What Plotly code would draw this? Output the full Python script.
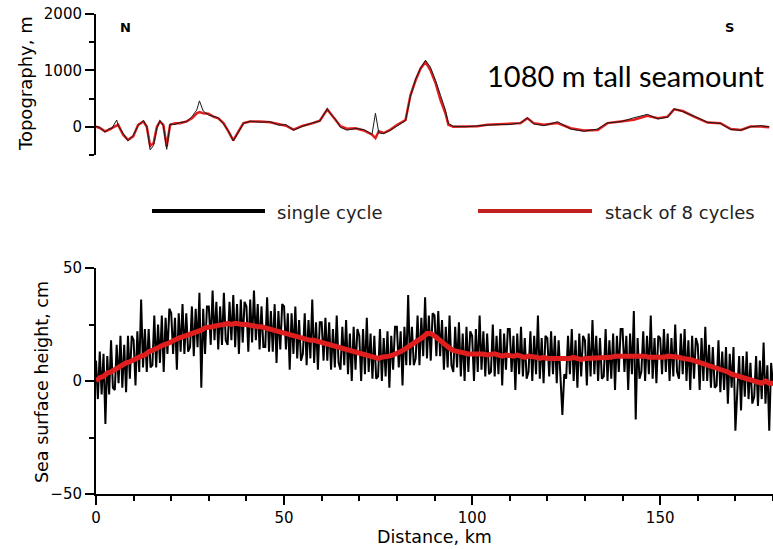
import plotly.graph_objects as go
from plotly.subplots import make_subplots

# ---------------- data ----------------
# Topography along track (km, m)
topo_km = [0, 1, 2.4, 3.3, 4.2, 5.5, 5.9, 7.2, 8.5, 9.9, 11.2, 12.6, 13.5, 14.4, 15.3, 16.2, 17, 17.9,
           18.8, 19.7, 21, 22.4, 24.1, 25.5, 26.8, 27.5, 28.5, 29.9, 31.2, 32.5, 33.9, 35.2, 36.5, 37.9,
           39.2, 41, 43.7, 46.3, 48.5, 50.5, 52.5, 55, 57.5, 59.5, 61.5, 62.3, 63.6, 65, 66.7, 69, 71.2,
           73.4, 74.3, 75.2, 76.5, 78.3, 80.1, 82.3, 83.6, 85, 86.3, 87.6, 88.9, 90.3, 91.6, 92.9, 93.7,
           95, 98, 101.4, 104, 107.6, 110, 112.9, 114.7, 116.4, 119.1, 122.7, 126.2, 129.7, 133.4, 136,
           139.5, 143, 146.6, 149.4, 152, 153.7, 156, 159, 162.6, 166, 168.8, 171.5, 174, 176.8, 179]
topo_stack = [0, -20, -80, -60, -25, 30, 35, -140, -230, -170, 35, 95, 0, -340, -290, 0, 95, 35,
              -350, 35, 65, 65, 95, 150, 240, 260, 240, 230, 180, 150, 65, -80, -240, -80,
              65, 95, 95, 80, 50, 20, -50, 20, 60, 110, 310, 240, 120, 10, -35, -25, -65,
              -140, -200, -80, -110, -50, 35, 120, 560, 830, 1035, 1150, 1005, 770, 475, 240, 35,
              0, 5, 10, 35, 45, 50, 65, 150, 65, 35, 65, -25, -65, -55, 65,
              95, 125, 195, 150, 180, 310, 280, 180, 75, 65, -40, -55, 5, 5, -10]
topo_single = [10, -10, -95, -40, -30, 120, 20, -120, -250, -150, 20, 110, 10, -410, -330, -20, 110, 20,
               -400, 50, 40, 80, 90, 180, 300, 460, 280, 210, 190, 160, 50, -70, -250, -90,
               60, 100, 80, 90, 30, 40, -60, 10, 70, 100, 320, 230, 140, -10, -60, -30, -50,
               -130, 240, -110, -120, -60, 20, 110, 540, 850, 1040, 1180, 1060, 820, 560, 300, 60,
               10, 0, 20, 30, 40, 40, 70, 160, 50, 20, 90, -40, -80, -40, 70,
               90, 160, 220, 140, 170, 320, 270, 190, 80, 60, -50, -60, 0, 20, 0]

# Sea surface height, single cycle (sampled every 0.5 km from 0 km), cm
ssh_single = [
    9, -8, 13, -6, 12, -19, 11, -6, 18, -3,
    -4, 16, -1, 20, -3, 16, -5, 20, 1, 20,
    18, -2, 22, 4, 36, 6, 23, 4, 23, 6,
    7, 29, 6, 25, 8, 29, 4, 28, 12, 32,
    30, 12, 28, 5, 30, 13, 34, 12, 30, 13,
    15, 33, 11, 32, 15, 39, -3, 32, 12, 33,
    33, 16, 40, 18, 35, 14, 33, 16, 39, 18,
    16, 35, 18, 38, 15, 34, 12, 36, 17, 35,
    33, 13, 36, 17, 40, 18, 34, 14, 33, 15,
    15, 37, 13, 31, 13, 34, 8, 31, 14, 34,
    33, 14, 30, 5, 30, 12, 33, 10, 27, 9,
    12, 30, 7, 27, 10, 36, 8, 26, 5, 26,
    26, 9, 28, 9, 26, 5, 23, 6, 29, 8,
    5, 24, 7, 27, 3, 21, 0, 24, 5, 23,
    20, 0, 23, 3, 28, 4, 21, 1, 20, 1,
    2, 23, 0, 19, 2, 22, -3, 20, 5, 24,
    24, 6, 22, -2, 24, 7, 38, 7, 24, 7,
    10, 29, 7, 28, 11, 37, 10, 29, 9, 30,
    29, 11, 31, 11, 27, 5, 24, 6, 29, 7,
    4, 24, 6, 26, 2, 21, 0, 24, 4, 22,
    20, 0, 23, 4, 29, 5, 22, 2, 21, 3,
    4, 25, 2, 20, 3, 23, -2, 21, 5, 23,
    23, 4, 20, -4, 21, 3, 24, 2, 19, 1,
    4, 22, 0, 20, 3, 29, 1, 19, -1, 20,
    19, 2, 22, 3, 20, -1, 18, 1, -15, 3,
    1, 20, 3, 23, 0, 18, -3, 21, 2, 20,
    18, -2, 21, 2, 27, 3, 20, 0, 19, 1,
    2, 23, 0, 18, 1, 21, -4, 20, 4, 23,
    23, 4, 20, -4, 21, 3, 31, -17, 19, 1,
    4, 22, 0, 20, 3, 29, 1, 19, -1, 20,
    19, 3, 23, 4, 21, 0, 19, 2, 25, 4,
    1, 21, 3, 23, 0, 18, -4, 20, 1, 19,
    16, -4, 19, 0, 24, 0, 16, -3, 15, -3,
    -2, 18, -5, 13, -4, 15, -10, 12, -3, 15,
    -22, -5, 11, -13, 11, -7, 13, -8, 8, -10,
    -7, 11, -11, 9, -8, 17, -10, 7, -22, 8,
    -2]

# Sea surface height, stack of 8 cycles (sampled every 1 km from 0 km), cm
ssh_stack = [
    0, 1.5, 2, 3.5, 4, 5, 6.5, 7, 8, 8.5, 9.5,
    10, 11, 11.5, 13, 13.5, 14.5, 15, 16, 16.5, 17.5,
    18, 19, 19.5, 20, 21, 21.5, 22, 22.5, 23.5, 23.5,
    24, 24.5, 24.5, 25, 25.5, 25, 25.5, 25, 25, 25,
    24.5, 24.5, 24, 24, 23.5, 23, 22.5, 22, 21.5, 21,
    20.5, 20, 20, 19.5, 19, 18.5, 18, 18, 17.5, 17,
    16.5, 16, 16, 15, 15, 14, 13.5, 13, 12.5, 12,
    11.5, 11, 10.5, 10.5, 10, 10.5, 10.5, 11, 11.5, 12,
    13, 14, 15, 16, 17, 18, 19.5, 21, 21, 20,
    18.5, 17, 15.5, 14.5, 13.5, 13, 12.5, 12.5, 12, 12,
    12, 12.5, 12, 11.5, 12, 12, 11.5, 11, 11.5, 11,
    11, 11.5, 11, 10.5, 11, 11, 10.5, 10, 10.5, 10,
    10, 9.5, 10, 10, 9.5, 10, 10.5, 10, 9.5, 10,
    10, 10.5, 10, 10, 10.5, 10, 10.5, 11, 11, 11,
    11.5, 11, 11, 11.5, 11, 11, 10.5, 10.5, 10, 10,
    10.5, 11, 11, 10.5, 10.5, 10, 10, 9.5, 9, 8.5,
    8, 7.5, 7, 6, 5.5, 5, 4.5, 4, 3, 2.5,
    2, 1.5, 1, 0.5, 0, -0.5, -1, 0, -1, -1]

legend_names = ["single cycle", "stack of 8 cycles"]
x_ticks = [0, 50, 100, 150]
topo_ticks = [0, 1000, 2000]
ssh_ticks = [-50, 0, 50]

# ---------------- style ----------------
BLACK = "#000000"
RED = "#e01e1e"
FONT = "DejaVu Sans"
W, H = 773, 549
ML, MR, MT, MB = 96, 0, 14, 55
PW, PH = W - ML - MR, H - MT - MB


def px(x):
    return (x - ML) / PW


def py(y):
    return (H - MB - y) / PH


fig = make_subplots(rows=2, cols=1, vertical_spacing=0.0)

fig.add_trace(go.Scatter(x=topo_km, y=topo_stack, mode="lines",
                         line=dict(color=RED, width=2.5), name=legend_names[1],
                         showlegend=False), row=1, col=1)
fig.add_trace(go.Scatter(x=topo_km, y=topo_single, mode="lines",
                         line=dict(color="#1a1a1a", width=1), name=legend_names[0],
                         showlegend=False), row=1, col=1)

fig.add_trace(go.Scatter(y=ssh_single, x0=0, dx=0.5, mode="lines",
                         line=dict(color=BLACK, width=2), name=legend_names[0],
                         showlegend=False), row=2, col=1)
fig.add_trace(go.Scatter(y=ssh_stack, x0=0, dx=1, mode="lines",
                         line=dict(color=RED, width=5), name=legend_names[1],
                         showlegend=False), row=2, col=1)

axis_common = dict(showgrid=False, zeroline=False, linecolor=BLACK, linewidth=2,
                   ticks="outside", tickcolor=BLACK, tickwidth=2, ticklen=9,
                   tickfont=dict(family=FONT, size=15, color=BLACK))

fig.update_layout(
    width=W, height=H,
    margin=dict(l=ML, r=MR, t=MT, b=MB),
    paper_bgcolor="white", plot_bgcolor="white",
    showlegend=False,
    xaxis=dict(domain=[0, 1], range=[0, 180], visible=False),
    yaxis=dict(domain=[py(155), 1], range=[-500, 2000], tickvals=topo_ticks,
               showline=True, minor=dict(tickvals=[-500, 500, 1500], ticklen=5,
                                         tickwidth=2, tickcolor=BLACK, ticks="outside"),
               **axis_common),
    xaxis2=dict(domain=[0, 1], range=[0, 180], tickvals=x_ticks, showline=True,
                minor=dict(dtick=10, ticklen=5, tickwidth=2, tickcolor=BLACK, ticks="outside"),
                **axis_common),
    yaxis2=dict(domain=[0, py(268)], range=[-50, 50], tickvals=ssh_ticks, showline=True,
                minor=dict(tickvals=[-25, 25], ticklen=5, tickwidth=2, tickcolor=BLACK,
                           ticks="outside"),
                **axis_common),
)

annotations = [
    dict(text="Topography, m", x=px(25), y=py(84), textangle=-90,
         font=dict(family=FONT, size=18, color=BLACK)),
    dict(text="Sea surface height, cm", x=px(42), y=py(382), textangle=-90,
         font=dict(family=FONT, size=17.5, color=BLACK)),
    dict(text="Distance, km", x=0.5, y=py(537),
         font=dict(family=FONT, size=17.5, color=BLACK)),
    dict(text="<b>N</b>", x=px(125), y=py(27), font=dict(family=FONT, size=13, color=BLACK)),
    dict(text="<b>S</b>", x=px(729), y=py(27), font=dict(family=FONT, size=13, color=BLACK)),
    dict(text="1080 m tall seamount", x=px(767), y=py(75), xanchor="right",
         font=dict(family="Lato", size=29, color=BLACK)),
    dict(text=legend_names[0], x=px(275), y=py(212), xanchor="left",
         font=dict(family=FONT, size=18, color="#222222")),
    dict(text=legend_names[1], x=px(603), y=py(212), xanchor="left",
         font=dict(family=FONT, size=18, color="#222222")),
]
for a in annotations:
    a.setdefault("xanchor", "center")
    a.update(xref="paper", yref="paper", yanchor="middle", showarrow=False)
fig.update_layout(annotations=annotations)

fig.update_layout(shapes=[
    dict(type="line", xref="paper", yref="paper", x0=px(152), x1=px(265), y0=py(211), y1=py(211),
         line=dict(color=BLACK, width=4)),
    dict(type="line", xref="paper", yref="paper", x0=px(478), x1=px(592), y0=py(211), y1=py(211),
         line=dict(color="#c02020", width=4)),
])

fig.write_html("out.html", config={"displayModeBar": False},
               post_script="document.body.style.margin='0';document.body.style.overflow='hidden';")
